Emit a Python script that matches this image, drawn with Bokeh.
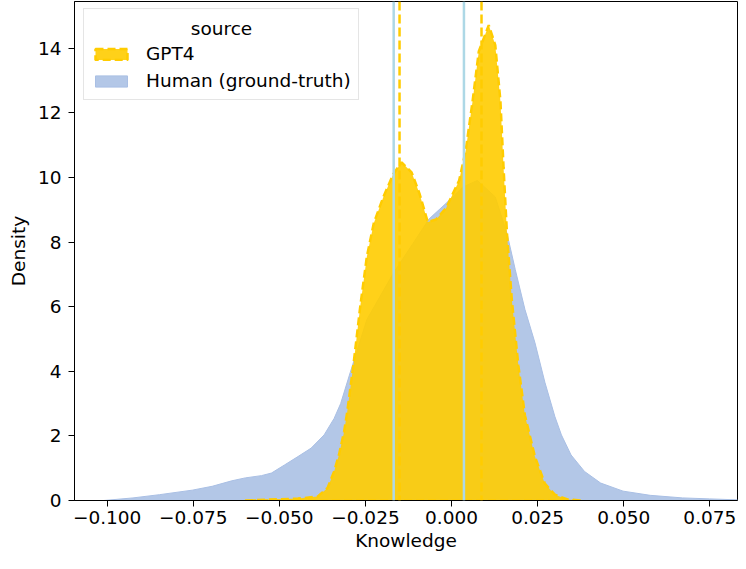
from bokeh.plotting import figure
from bokeh.models import Span, Legend, LegendItem, FixedTicker, Range1d, Label
from bokeh.embed import file_html
from bokeh.resources import INLINE

# ---- data ----
human_x = [-0.1010, -0.0925, -0.0848, -0.0753, -0.0695, -0.0638, -0.0599, -0.0552, -0.0523,
           -0.0485, -0.0446, -0.0408, -0.0370, -0.0341, -0.0322, -0.0294, -0.0246, -0.0169,
           -0.0112, -0.0065, -0.0016, 0.0013, 0.0032, 0.0075, 0.0127, 0.0161, 0.0185, 0.0213,
           0.0242, 0.0271, 0.0300, 0.0319, 0.0347, 0.0386, 0.0433, 0.0498, 0.0577, 0.0671,
           0.0749, 0.0830]
human_y = [0.00, 0.08, 0.18, 0.32, 0.44, 0.61, 0.70, 0.77, 0.85,
           1.10, 1.36, 1.62, 2.03, 2.54, 3.00, 3.97, 5.60, 7.04,
           7.96, 8.72, 9.20, 9.50, 9.70, 9.91, 9.40, 8.27, 7.15, 5.92,
           4.89, 3.66, 2.60, 2.03, 1.41, 0.90, 0.54, 0.29, 0.16, 0.08,
           0.05, 0.02]

gpt_x = [-0.0600, -0.0446, -0.0389, -0.0360, -0.0341, -0.0327, -0.0312, -0.0303, -0.0284,
         -0.0265, -0.0246, -0.0226, -0.0198, -0.0169, -0.0145, -0.0116, -0.0093, -0.0069,
         -0.0045, -0.0016, 0.0022, 0.0041, 0.0061, 0.0079, 0.0108, 0.0127, 0.0142, 0.0151,
         0.0161, 0.0175, 0.0194, 0.0213, 0.0242, 0.0271, 0.0300, 0.0337, 0.0380]
gpt_y = [0.00, 0.06, 0.12, 0.39, 0.90, 1.41, 2.13, 2.74, 4.28,
         6.02, 7.55, 8.58, 9.40, 10.11, 10.47, 10.16, 9.50, 8.62,
         8.70, 9.05, 9.91, 10.83, 12.36, 13.90, 14.72, 14.10, 12.36, 10.32,
         8.27, 6.22, 4.18, 2.64, 1.36, 0.52, 0.18, 0.03, 0.00]

human_lines = [-0.0168, 0.0036]
gpt_lines = [-0.0151, 0.0087]

x_ticks = [-0.100, -0.075, -0.050, -0.025, 0.000, 0.025, 0.050, 0.075]
x_tick_labels = ["\u22120.100", "\u22120.075", "\u22120.050", "\u22120.025", "0.000", "0.025", "0.050", "0.075"]
y_ticks = [0, 2, 4, 6, 8, 10, 12, 14]

legend_title = "source"
series_labels = ["GPT4", "Human (ground-truth)"]

FONT = "DejaVu Sans"
FS = "18.5px"
GOLD = "#FFCC00"
BLUE = "#B3C7E7"

X0, X1 = -0.10948, 0.08303
Y0, Y1 = 0.0, 15.45

p = figure(width=738, height=561, output_backend="svg", toolbar_location=None,
           x_range=Range1d(X0, X1), y_range=Range1d(Y0, Y1),
           min_border_left=74, min_border_right=1, min_border_top=1, min_border_bottom=61)

hx = [human_x[0]] + human_x + [human_x[-1]]
hy = [0] + human_y + [0]
gx = [gpt_x[0]] + gpt_x + [gpt_x[-1]]
gy = [0] + gpt_y + [0]

r_h = p.patch(hx, hy, fill_color=BLUE, fill_alpha=1.0, line_color="#A9BFE4", line_width=1)
r_g = p.patch(gx, gy, fill_color=GOLD, fill_alpha=0.9, line_color=GOLD, line_width=2.5,
              line_dash="8 4")

for v in human_lines:
    p.add_layout(Span(location=v, dimension="height", line_color="#ADD8E6", line_width=2.5))
for v in gpt_lines:
    p.add_layout(Span(location=v, dimension="height", line_color=GOLD, line_width=2.5,
                      line_dash="9 4"))

legend = Legend(items=[LegendItem(label=series_labels[0], renderers=[r_g]),
                       LegendItem(label=series_labels[1], renderers=[r_h])],
                location=(9, 400), title=" ")
legend.title_text_font = FONT
legend.title_text_font_size = FS
legend.title_text_font_style = "normal"
legend.title_standoff = 5
legend.label_text_font = FONT
legend.label_text_font_size = FS
legend.label_text_color = "black"
legend.label_height = 23
legend.glyph_height = 14
legend.glyph_width = 40
legend.label_standoff = 15
legend.spacing = 4
legend.padding = 7
legend.margin = 0
legend.border_line_color = "#CCCCCC"
legend.border_line_width = 1
legend.background_fill_alpha = 0.0
p.add_layout(legend)

# centred legend title (Bokeh draws legend titles left-aligned)
frame_w = 738 - 74 - 1
frame_h = 561 - 1 - 61
title_sx = 221 - 74
title_sy = 500 - 28
p.add_layout(Label(x=X0 + title_sx / frame_w * (X1 - X0), y=Y0 + title_sy / frame_h * (Y1 - Y0),
                   text=legend_title, text_align="center", text_baseline="middle",
                   text_font=FONT, text_font_size=FS, text_color="black", level="overlay"))

p.xgrid.visible = False
p.ygrid.visible = False
p.outline_line_color = "black"
p.outline_line_width = 1

p.xaxis.ticker = FixedTicker(ticks=x_ticks)
p.xaxis.major_label_overrides = {t: l for t, l in zip(x_ticks, x_tick_labels)}
p.yaxis.ticker = FixedTicker(ticks=y_ticks)
p.xaxis.axis_label = "Knowledge"
p.yaxis.axis_label = "Density"
for ax in (p.xaxis, p.yaxis):
    ax.axis_label_text_font = FONT
    ax.axis_label_text_font_size = FS
    ax.axis_label_text_font_style = "normal"
    ax.major_label_text_font = FONT
    ax.major_label_text_font_size = FS
    ax.major_tick_out = 6
    ax.major_tick_in = 0
    ax.minor_tick_out = 0
    ax.minor_tick_in = 0
    ax.axis_line_color = "black"
    ax.major_tick_line_color = "black"
    ax.major_label_text_color = "black"
    ax.axis_label_text_color = "black"
p.xaxis.major_label_standoff = 4
p.xaxis.axis_label_standoff = 3
p.yaxis.major_label_standoff = 7
p.yaxis.axis_label_standoff = 6

open("out.html", "w").write(file_html(p, INLINE))
